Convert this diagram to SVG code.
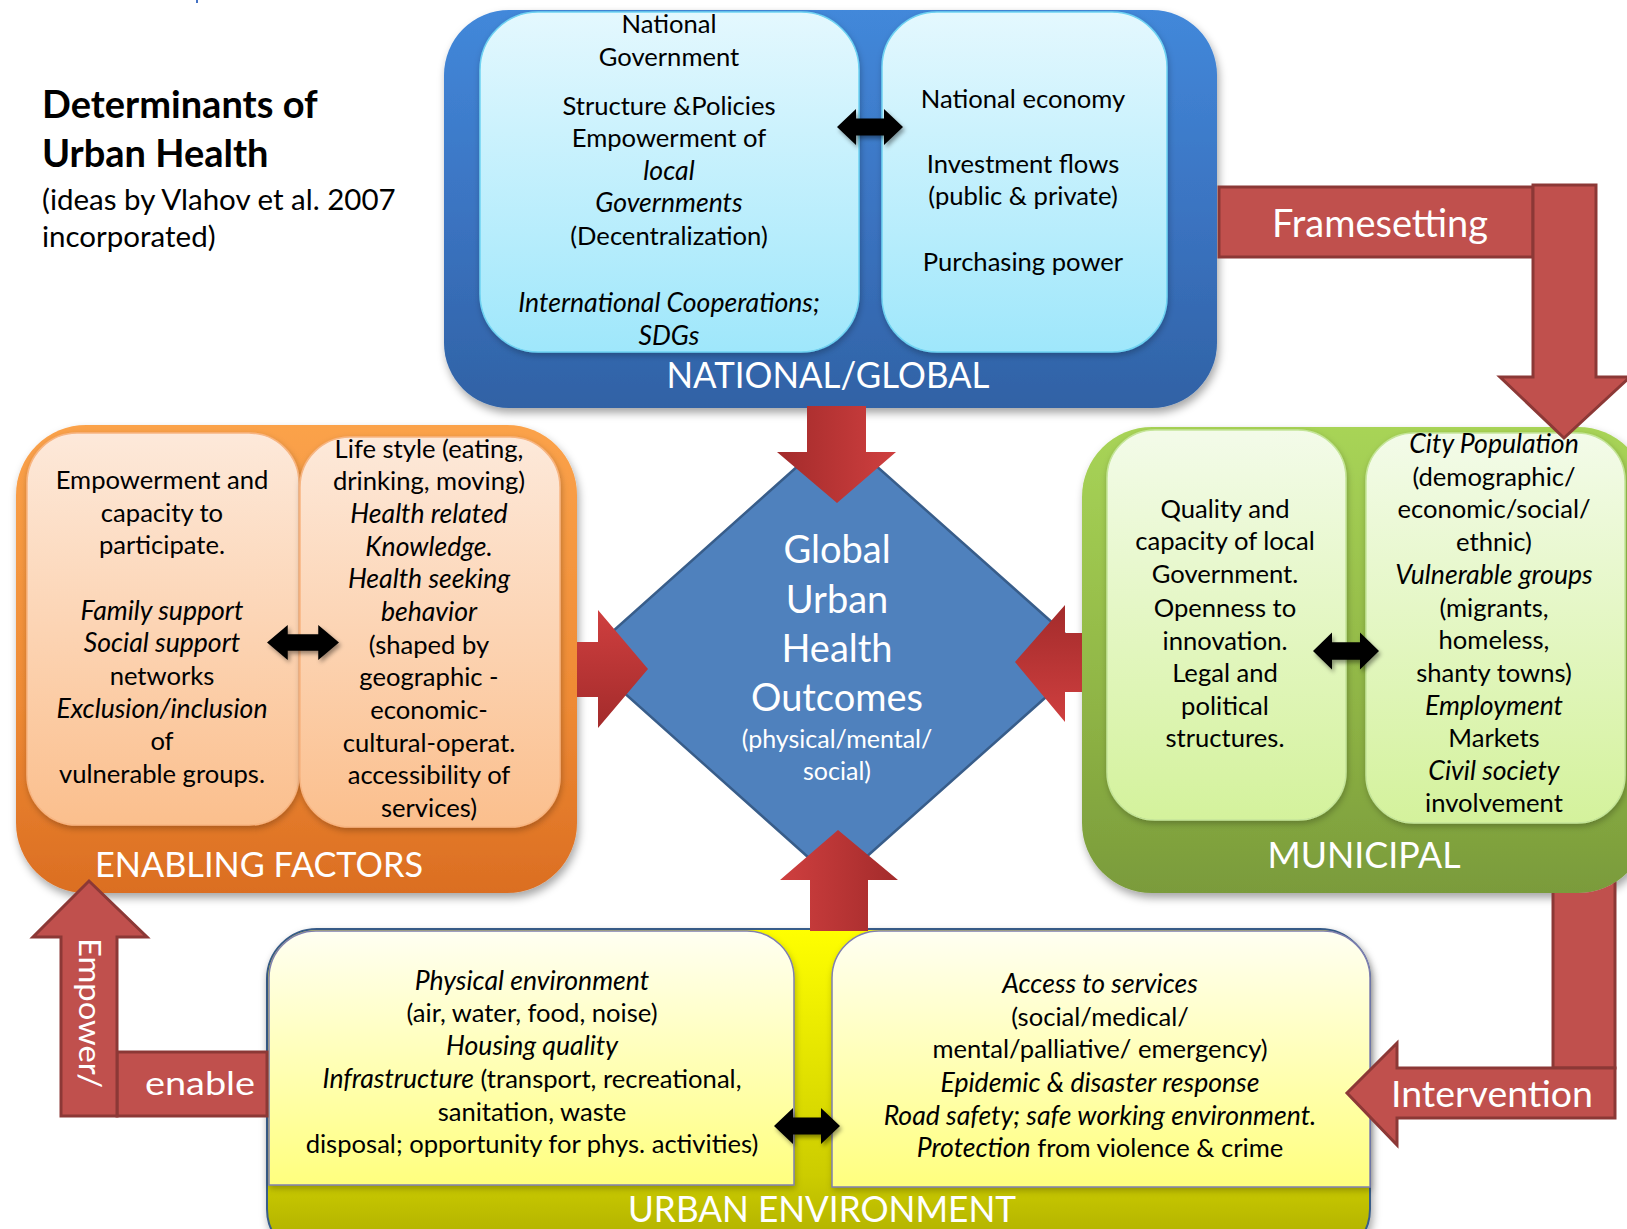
<svg xmlns="http://www.w3.org/2000/svg" xmlns:xlink="http://www.w3.org/1999/xlink" width="1627" height="1229" viewBox="0 0 1627 1229">
<style>
.t{font-family:Lato,"Liberation Sans",sans-serif;font-size:25.6px;fill:#000;text-anchor:middle}
.i{font-style:italic;font-size:26.6px}
.lbl{font-family:Lato,"Liberation Sans",sans-serif;fill:#fff;text-anchor:middle}
.ttl{font-family:Lato,"Liberation Sans",sans-serif;fill:#000}
.flat{fill:#c0504d;stroke:#8c3836;stroke-width:3;stroke-linejoin:miter}
.dbl{fill:#000}
</style>
<defs>
<filter id="sh" x="-10%" y="-10%" width="120%" height="125%"><feDropShadow dx="2" dy="5" stdDeviation="4" flood-color="#000" flood-opacity="0.35"/></filter>
<filter id="shi" x="-10%" y="-10%" width="120%" height="120%"><feDropShadow dx="1" dy="3" stdDeviation="3" flood-color="#000" flood-opacity="0.25"/></filter>
<filter id="sha" x="-20%" y="-30%" width="140%" height="160%"><feDropShadow dx="2" dy="3" stdDeviation="2" flood-color="#000" flood-opacity="0.4"/></filter>
<clipPath id="notGreen"><path clip-rule="evenodd" d="M0 0 H1700 V1300 H0 Z M1152 427 H1578 A70 70 0 0 1 1648 497 V823 A70 70 0 0 1 1578 893 H1152 A70 70 0 0 1 1082 823 V497 A70 70 0 0 1 1152 427 Z"/></clipPath>
<linearGradient id="gBlue" x1="0" y1="0" x2="0" y2="1"><stop offset="0" stop-color="#4288da"/><stop offset="0.55" stop-color="#3a72bf"/><stop offset="1" stop-color="#3062a5"/></linearGradient>
<linearGradient id="gCyan" x1="0" y1="0" x2="0" y2="1"><stop offset="0" stop-color="#e4f8fe"/><stop offset="1" stop-color="#9fe7fb"/></linearGradient>
<linearGradient id="gOrange" x1="0" y1="0" x2="0" y2="1"><stop offset="0" stop-color="#fba24a"/><stop offset="0.6" stop-color="#ee8a34"/><stop offset="1" stop-color="#db6e22"/></linearGradient>
<linearGradient id="gPeach" x1="0" y1="0" x2="0" y2="1"><stop offset="0" stop-color="#fde9da"/><stop offset="1" stop-color="#fbbf8d"/></linearGradient>
<linearGradient id="gGreen" x1="0" y1="0" x2="0" y2="1"><stop offset="0" stop-color="#a8d457"/><stop offset="0.6" stop-color="#8fb445"/><stop offset="1" stop-color="#7a9b3b"/></linearGradient>
<linearGradient id="gLime" x1="0" y1="0" x2="0" y2="1"><stop offset="0" stop-color="#f3fbe9"/><stop offset="1" stop-color="#d4f29c"/></linearGradient>
<linearGradient id="gYellow" x1="0" y1="0" x2="0" y2="1"><stop offset="0" stop-color="#ffff00"/><stop offset="0.75" stop-color="#cccc00"/><stop offset="1" stop-color="#a9a900"/></linearGradient>
<linearGradient id="gCream" x1="0" y1="0" x2="0" y2="1"><stop offset="0" stop-color="#fffff2"/><stop offset="1" stop-color="#ffff7e"/></linearGradient>
<linearGradient id="rH" x1="0" y1="0" x2="1" y2="0"><stop offset="0" stop-color="#a32b2b"/><stop offset="1" stop-color="#cf3f3f"/></linearGradient>
<linearGradient id="rHr" x1="0" y1="0" x2="1" y2="0"><stop offset="0" stop-color="#cf3f3f"/><stop offset="1" stop-color="#a32b2b"/></linearGradient>
<linearGradient id="rV" x1="0" y1="0" x2="0" y2="1"><stop offset="0" stop-color="#cf3f3f"/><stop offset="1" stop-color="#a32b2b"/></linearGradient>
<linearGradient id="rVr" x1="0" y1="0" x2="0" y2="1"><stop offset="0" stop-color="#a32b2b"/><stop offset="1" stop-color="#cf3f3f"/></linearGradient>
<path id="dbl" d="M-33 0 L-14 -18 L-14 -8.5 L14 -8.5 L14 -18 L33 0 L14 18 L14 8.5 L-14 8.5 L-14 18 Z"/>
</defs>
<rect width="1627" height="1229" fill="#fff"/>
<rect x="196" y="0" width="2" height="3" fill="#4472c4"/>

<g id="title">
<text class="ttl" x="42" y="118" font-size="38" font-weight="bold">Determinants of</text>
<text class="ttl" x="42" y="167" font-size="38" font-weight="bold">Urban Health</text>
<text class="ttl" x="42" y="210" font-size="29.5">(ideas by Vlahov et al. 2007</text>
<text class="ttl" x="42" y="247" font-size="29.5">incorporated)</text>
</g>

<g id="national-global">
<rect x="444" y="10" width="773" height="398" rx="65" fill="url(#gBlue)" filter="url(#sh)"/>
<rect x="480" y="12" width="379" height="340" rx="58" fill="url(#gCyan)" stroke="#6fd3f2" stroke-width="1.5" filter="url(#shi)"/>
<rect x="882" y="12" width="285" height="340" rx="55" fill="url(#gCyan)" stroke="#6fd3f2" stroke-width="1.5" filter="url(#shi)"/>
<text class="t" x="669" y="33">National</text>
<text class="t" x="669" y="66">Government</text>
<text class="t" x="669" y="115">Structure &amp;Policies</text>
<text class="t" x="669" y="147">Empowerment of</text>
<text class="t i" x="669" y="180">local</text>
<text class="t i" x="669" y="212">Governments</text>
<text class="t" x="669" y="245">(Decentralization)</text>
<text class="t i" x="669" y="312">International Cooperations;</text>
<text class="t i" x="669" y="345">SDGs</text>
<text class="t" x="1023" y="108">National economy</text>
<text class="t" x="1023" y="173">Investment flows</text>
<text class="t" x="1023" y="205">(public &amp; private)</text>
<text class="t" x="1023" y="271">Purchasing power</text>
<text class="lbl" x="828" y="388" font-size="36" textLength="323" lengthAdjust="spacingAndGlyphs">NATIONAL/GLOBAL</text>
</g>

<g id="enabling-factors">
<rect x="16" y="425" width="561" height="468" rx="70" fill="url(#gOrange)" filter="url(#sh)"/>
<rect x="27" y="433" width="272" height="392" rx="50" fill="url(#gPeach)" stroke="#f7b582" stroke-width="1.5" filter="url(#shi)"/>
<rect x="300" y="437" width="260" height="390" rx="50" fill="url(#gPeach)" stroke="#f7b582" stroke-width="1.5" filter="url(#shi)"/>
<text class="t" x="162" y="489">Empowerment and</text>
<text class="t" x="162" y="522">capacity to</text>
<text class="t" x="162" y="554">participate.</text>
<text class="t i" x="162" y="620">Family support</text>
<text class="t i" x="162" y="652">Social support</text>
<text class="t" x="162" y="685">networks</text>
<text class="t i" x="162" y="718">Exclusion/inclusion</text>
<text class="t" x="162" y="750">of</text>
<text class="t" x="162" y="783">vulnerable groups.</text>
<text class="t" x="429" y="458">Life style (eating,</text>
<text class="t" x="429" y="490">drinking, moving)</text>
<text class="t i" x="429" y="523">Health related</text>
<text class="t i" x="429" y="556">Knowledge.</text>
<text class="t i" x="429" y="588">Health seeking</text>
<text class="t i" x="429" y="621">behavior</text>
<text class="t" x="429" y="654">(shaped by</text>
<text class="t" x="429" y="686">geographic -</text>
<text class="t" x="429" y="719">economic-</text>
<text class="t" x="429" y="752">cultural-operat.</text>
<text class="t" x="429" y="784">accessibility of</text>
<text class="t" x="429" y="817">services)</text>
<text class="lbl" x="259" y="877" font-size="35" textLength="328" lengthAdjust="spacingAndGlyphs">ENABLING FACTORS</text>
</g>

<g id="municipal">
<rect x="1082" y="427" width="566" height="466" rx="70" fill="url(#gGreen)" filter="url(#sh)"/>
<rect x="1107" y="430" width="239" height="390" rx="48" fill="url(#gLime)" stroke="#c5e59a" stroke-width="1.5" filter="url(#shi)"/>
<rect x="1366" y="433" width="259" height="390" rx="48" fill="url(#gLime)" stroke="#c5e59a" stroke-width="1.5" filter="url(#shi)"/>
<text class="t" x="1225" y="518">Quality and</text>
<text class="t" x="1225" y="550">capacity of local</text>
<text class="t" x="1225" y="583">Government.</text>
<text class="t" x="1225" y="617">Openness to</text>
<text class="t" x="1225" y="650">innovation.</text>
<text class="t" x="1225" y="682">Legal and</text>
<text class="t" x="1225" y="715">political</text>
<text class="t" x="1225" y="747">structures.</text>
<text class="t i" x="1494" y="453">City Population</text>
<text class="t" x="1494" y="486">(demographic/</text>
<text class="t" x="1494" y="518">economic/social/</text>
<text class="t" x="1494" y="551">ethnic)</text>
<text class="t i" x="1494" y="584">Vulnerable groups</text>
<text class="t" x="1494" y="617">(migrants,</text>
<text class="t" x="1494" y="649">homeless,</text>
<text class="t" x="1494" y="682">shanty towns)</text>
<text class="t i" x="1494" y="715">Employment</text>
<text class="t" x="1494" y="747">Markets</text>
<text class="t i" x="1494" y="780">Civil society</text>
<text class="t" x="1494" y="812">involvement</text>
<text class="lbl" x="1364" y="868" font-size="36" textLength="193" lengthAdjust="spacingAndGlyphs">MUNICIPAL</text>
</g>

<g id="urban-environment">
<rect x="267" y="929" width="1103" height="330" rx="50" fill="url(#gYellow)" stroke="#385d8a" stroke-width="2" filter="url(#sh)"/>
<path d="M269 1185 V978 A47 47 0 0 1 316 931 H747 A47 47 0 0 1 794 978 V1185 Z" fill="url(#gCream)" stroke="#7f7fb0" stroke-width="1.5" filter="url(#shi)"/>
<path d="M832 1187 V978 A47 47 0 0 1 879 931 H1323 A47 47 0 0 1 1370 978 V1187 Z" fill="url(#gCream)" stroke="#7f7fb0" stroke-width="1.5" filter="url(#shi)"/>
<text class="t i" x="532" y="990">Physical environment</text>
<text class="t" x="532" y="1022">(air, water, food, noise)</text>
<text class="t i" x="532" y="1055">Housing quality</text>
<text class="t" x="532" y="1088"><tspan class="i">Infrastructure</tspan> (transport, recreational,</text>
<text class="t" x="532" y="1121">sanitation, waste</text>
<text class="t" x="532" y="1153">disposal; opportunity for phys. activities)</text>
<text class="t i" x="1100" y="993">Access to services</text>
<text class="t" x="1100" y="1026">(social/medical/</text>
<text class="t" x="1100" y="1058">mental/palliative/ emergency)</text>
<text class="t i" x="1100" y="1092">Epidemic &amp; disaster response</text>
<text class="t i" x="1100" y="1125">Road safety; safe working environment.</text>
<text class="t" x="1100" y="1157"><tspan class="i">Protection</tspan> from violence &amp; crime</text>
<text class="lbl" x="822" y="1222" font-size="37" textLength="388" lengthAdjust="spacingAndGlyphs">URBAN ENVIRONMENT</text>
</g>

<g id="outcomes">
<polygon points="837,431 1091,657 837,883 584,657" fill="#4f81bd" stroke="#385d8a" stroke-width="2.5" clip-path="url(#notGreen)"/>
<text class="lbl" x="837" y="563" font-size="38">Global</text>
<text class="lbl" x="837" y="613" font-size="38">Urban</text>
<text class="lbl" x="837" y="662" font-size="38">Health</text>
<text class="lbl" x="837" y="711" font-size="38">Outcomes</text>
<text class="lbl" x="837" y="748" font-size="25" fill="#eef2fa">(physical/mental/</text>
<text class="lbl" x="837" y="780" font-size="25">social)</text>
</g>

<g id="connectors">
<path d="M807 406 H866 V452 H896 L837 503 L777 452 H807 Z" fill="url(#rH)"/>
<path d="M577 642 H598 V610 L648 669 L598 728 V697 H577 Z" fill="url(#rV)"/>
<path d="M1095 633 H1065 V605 L1015 662 L1065 722 V692 H1095 Z" fill="url(#rVr)" clip-path="url(#notGreen)"/>
<path d="M810 931 V880 H780 L838 830 L898 880 H868 V931 Z" fill="url(#rHr)"/>
<rect class="flat" x="1219" y="187" width="314" height="70"/>
<path class="flat" d="M1533 185 H1596 V377 H1630 L1564 438 L1500 377 H1533 Z"/>
<path class="flat" d="M1553 860 H1615 V1068 H1553 Z" clip-path="url(#notGreen)"/>
<path class="flat" d="M1615 1068 V1118 H1397 V1145 L1347 1093 L1397 1043 V1068 Z"/>
<path class="flat" d="M267 1052 V1116 H117 V1052 Z"/>
<path class="flat" d="M61 1116 V937 H33 L89 881 L147 937 H117 V1116 Z"/>
<text class="lbl" x="1380" y="237" font-size="38" textLength="216" lengthAdjust="spacingAndGlyphs">Framesetting</text>
<text class="lbl" x="1492" y="1107" font-size="37" textLength="202" lengthAdjust="spacingAndGlyphs">Intervention</text>
<text class="lbl" x="200" y="1095" font-size="33" textLength="110" lengthAdjust="spacingAndGlyphs">enable</text>
<text class="lbl" transform="translate(79,1013) rotate(90)" x="0" y="0" font-size="30" textLength="150" lengthAdjust="spacingAndGlyphs">Empower/</text>
<use href="#dbl" class="dbl" transform="translate(870,127)" filter="url(#sha)"/>
<use href="#dbl" class="dbl" transform="translate(303,642.5) scale(1.09,0.97)" filter="url(#sha)"/>
<use href="#dbl" class="dbl" transform="translate(1346,651) scale(1,1.03)" filter="url(#sha)"/>
<use href="#dbl" class="dbl" transform="translate(807,1126)" filter="url(#sha)"/>
</g>
</svg>
